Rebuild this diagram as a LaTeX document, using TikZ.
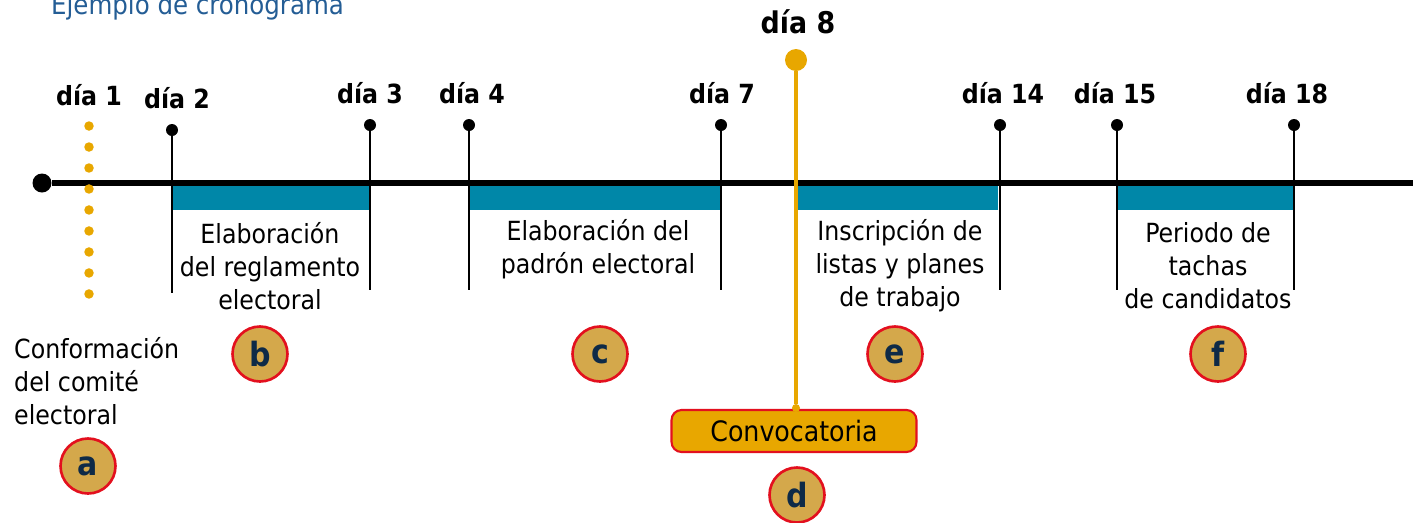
\documentclass[tikz,border=0pt]{standalone}
\usepackage{fontspec}
\setmainfont{DejaVu Sans Condensed}
\usetikzlibrary{positioning}
\definecolor{oro}{HTML}{E8A700}
\definecolor{petroleo}{HTML}{0087A8}
\definecolor{ocre}{HTML}{D4A84B}
\definecolor{rojo}{HTML}{E3101E}
\definecolor{marino}{HTML}{0E2A47}
\definecolor{azul}{HTML}{245D95}
\begin{document}
\begin{tikzpicture}[x=0.02cm,y=-0.02cm,
	punto/.style={shape=circle,fill=black,inner sep=0pt,minimum size=0.24cm},
	dia/.style={font=\bfseries\fontsize{15}{18}\selectfont},
	texto/.style={align=center,font=\fontsize{15}{18.8}\selectfont},
	letra/.style={shape=circle,draw=rojo,line width=1.5pt,fill=ocre,inner sep=0pt,
		minimum size=1.1cm,text=marino,font=\bfseries\fontsize{19}{19}\selectfont},
	marca/.style={line width=1.4pt}]
	\useasboundingbox (0,0) rectangle (1413,522);
	\node (titulo) [anchor=base west,text=azul,font=\fontsize{15.5}{18}\selectfont] at (45,14) {Ejemplo de cronograma};
	% barras de periodo
	\fill[petroleo] (172,185) rectangle (370,210);
	\fill[petroleo] (469,185) rectangle (721,210);
	\fill[petroleo] (798,185) rectangle (998,210);
	\fill[petroleo] (1117,185) rectangle (1294,210);
	% linea de tiempo
	\path (42,183) node (inicio) [shape=circle,fill=black,inner sep=0pt,minimum size=0.38cm] {}
		  (1413,183) coordinate (fin);
	\draw[line width=3.3pt] (inicio) -- (fin);
	% dia 1
	\path (89,126) coordinate (a1) (89,294) coordinate (a2);
	\draw[oro,line width=0.19cm,line cap=round,dash pattern=on 0pt off 0.42cm] (a1) -- (a2);
	\node (d1) [dia] at (89,95) {día 1};
	% marcas
	\path (172,130) node (p2) [punto] {}  (172,293) coordinate (b2)
		  (370,125) node (p3) [punto] {}  (370,290) coordinate (b3)
		  (469,125) node (p4) [punto] {}  (469,290) coordinate (b4)
		  (721,125) node (p7) [punto] {}  (721,290) coordinate (b7)
		  (1000,125) node (p14) [punto] {} (1000,290) coordinate (b14)
		  (1117,125) node (p15) [punto] {} (1117,290) coordinate (b15)
		  (1294,125) node (p18) [punto] {} (1294,290) coordinate (b18);
	\foreach \n in {2,3,4,7,14,15,18}
		\draw[marca] (p\n) -- (b\n);
	\node (d2) [dia] at (177,98) {día 2};
	\node (d3) [dia] at (370,93) {día 3};
	\node (d4) [dia] at (472,93) {día 4};
	\node (d7) [dia] at (722,93) {día 7};
	\node (d14) [dia] at (1003,93) {día 14};
	\node (d15) [dia] at (1115,93) {día 15};
	\node (d18) [dia] at (1287,93) {día 18};
	% dia 8
	\node (d8) [dia,font=\bfseries\fontsize{17}{20}\selectfont] at (798,22) {día 8};
	\node (p8) [shape=circle,fill=oro,inner sep=0pt,minimum size=0.44cm] at (796,60) {};
	\node (conv) [draw=rojo,line width=1.2pt,fill=oro,rounded corners=0.2cm,minimum width=4.9cm,
		minimum height=0.84cm,font=\fontsize{16}{18}\selectfont] at (794,431) {Convocatoria};
	\node (q8) [shape=circle,fill=oro,inner sep=0pt,minimum size=0.16cm] at (796,408) {};
	\draw[oro,line width=2.2pt] (p8) -- (q8);
	% textos
	\node (ta) [texto,align=left,anchor=west] at (8,381) {Conformación\\del comité\\electoral};
	\node (tb) [texto] at (270,266) {Elaboración\\del reglamento\\electoral};
	\node (tc) [texto] at (598,249) {Elaboración del\\padrón electoral};
	\node (te) [texto] at (900,266) {Inscripción de\\listas y planes\\de trabajo};
	\node (tf) [texto] at (1208,266) {Periodo de\\tachas\\de candidatos};
	% letras
	\node (la) [letra] at (88,466) {a};
	\node (lb) [letra] at (260,354) {b};
	\node (lc) [letra] at (600,354) {c};
	\node (ld) [letra] at (797,495) {d};
	\node (le) [letra] at (895,354) {e};
	\node (lf) [letra] at (1218,354) {f};
\end{tikzpicture}
\end{document}
